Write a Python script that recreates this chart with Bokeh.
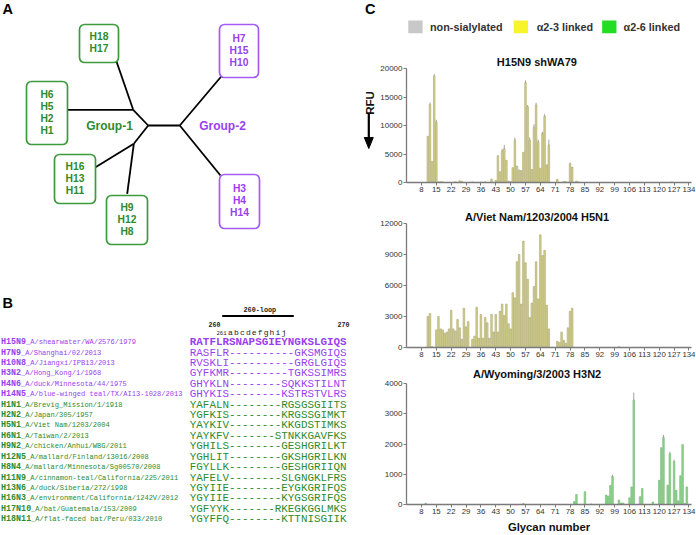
from bokeh.plotting import figure
from bokeh.layouts import row, column
from bokeh.models import Range1d, ColumnDataSource, FixedTicker, BasicTickFormatter
from bokeh.embed import file_html
from bokeh.resources import INLINE
from bokeh.core.properties import value

# ------------------------------------------------------------------ data
# Panel A: HA subtypes in each clade box of the tree
clade_members = [["H18", "H17"], ["H6", "H5", "H2", "H1"], ["H16", "H13", "H11"],
                 ["H9", "H12", "H8"], ["H7", "H15", "H10"], ["H3", "H4", "H14"]]
clade_group = [1, 1, 1, 1, 2, 2]
group_labels = ["Group-1", "Group-2"]

# Panel B: 260-loop alignment
strain_names = [
    "H15N9_A/shearwater/WA/2576/1979",
    "H7N9_A/Shanghai/02/2013",
    "H10N8_A/Jiangxi/IPB13/2013",
    "H3N2_A/Hong_Kong/1/1968",
    "H4N6_A/duck/Minnesota/44/1975",
    "H14N5_A/blue-winged teal/TX/AI13-1028/2013",
    "H1N1_A/Brevig_Mission/1/1918",
    "H2N2_A/Japan/305/1957",
    "H5N1_A/Viet Nam/1203/2004",
    "H6N1_A/Taiwan/2/2013",
    "H9N2_A/chicken/Anhui/WBG/2011",
    "H12N5_A/mallard/Finland/13016/2008",
    "H8N4_A/mallard/Minnesota/Sg00570/2008",
    "H11N9_A/cinnamon-teal/California/225/2011",
    "H13N6_A/duck/Siberia/272/1998",
    "H16N3_A/environment/California/1242V/2012",
    "H17N10_A/bat/Guatemala/153/2009",
    "H18N11_A/flat-faced bat/Peru/033/2010",
]
sequences = [
    "RATFLRSNAPSGIEYNGKSLGIQS",
    "RASFLR----------GKSMGIQS",
    "RVSKLI----------GRGLGIQS",
    "GYFKMR---------TGKSSIMRS",
    "GHYKLN--------SQKKSTILNT",
    "GHYKIS--------KSTRSTVLRS",
    "YAFALN--------RGSGSGIITS",
    "YGFKIS--------KRGSSGIMKT",
    "YAYKIV--------KKGDSTIMKS",
    "YAYKFV-------STNKKGAVFKS",
    "YGHILS--------GESHGRILKT",
    "YGHLIT--------GKSHGRILKN",
    "FGYLLK--------GESHGRIIQN",
    "YAFELV--------SLGNGKLFRS",
    "YGYIIE--------EYGKGRIFQS",
    "YGYIIE--------KYGSGRIFQS",
    "YGFYYK-------RKEGKGGLMKS",
    "YGYFFQ--------KTTNISGIIK",
]
strain_group = [2, 2, 2, 2, 2, 2, 1, 1, 1, 1, 1, 1, 1, 1, 1, 1, 1, 1]
loop_title = "260-loop"
position_labels = ["260", "270"]
insert_labels = ["261", "a", "b", "c", "d", "e", "f", "g", "h", "i", "j"]

# Panel C: glycan array (glycan number -> RFU)
legend_labels = ["non-sialylated", "\u03b12-3 linked", "\u03b12-6 linked"]
y_label = "RFU"
x_label = "Glycan number"
glycan_ticks = [8, 15, 22, 29, 36, 43, 50, 57, 64, 71, 78, 85, 92, 99, 106, 113, 120, 127, 134]

h15n9_title = "H15N9 shWA79"
h15n9_glycan = [11, 12, 13, 14, 15, 16, 17, 18, 24, 26, 27, 32, 36, 38, 41, 43, 44, 45, 46,
                47, 48, 49, 50, 51, 52, 53, 54, 55, 56, 57, 58, 59, 60, 61, 62, 63, 64, 65,
                66, 67, 68, 72, 75, 76, 78, 79, 81, 82, 126]
h15n9_rfu = [8100, 13700, 3700, 18700, 10600, 100, 150, 120, 120, 300, 200, 100, 80, 120,
             600, 350, 4700, 1900, 5500, 5900, 3900, 250, 150, 2600, 7400, 2900, 2200, 2100,
             5300, 17500, 13300, 7400, 2300, 9700, 13600, 7100, 2500, 8600, 11600, 3100,
             6600, 550, 150, 150, 3300, 2700, 250, 100, 100]
h15n9_err = [0, 300, 0, 300, 400, 0, 0, 0, 0, 0, 0, 0, 0, 0, 0, 0, 0, 0, 400, 700, 0, 0, 0,
             0, 500, 0, 0, 0, 0, 400, 300, 500, 0, 500, 400, 400, 0, 300, 400, 0, 900, 0, 0,
             0, 200, 0, 0, 0, 0]

h5n1_title = "A/Viet Nam/1203/2004 H5N1"
h5n1_glycan = [11, 12, 13, 15, 16, 17, 18, 19, 20, 21, 22, 23, 24, 25, 26, 27, 28, 29, 30,
               32, 33, 34, 35, 36, 37, 38, 39, 40, 41, 42, 43, 44, 45, 46, 47, 48, 49, 50,
               51, 52, 53, 54, 55, 56, 57, 58, 59, 60, 61, 62, 63, 64, 65, 66, 67, 68, 72,
               73, 74, 75, 76, 77, 78, 79, 101]
h5n1_rfu = [3000, 3300, 100, 1700, 3000, 1800, 1700, 1400, 1500, 1800, 3600, 1800, 1600,
            2700, 1900, 800, 3800, 2000, 2500, 800, 1100, 3900, 900, 3200, 900, 2900, 2400,
            900, 3200, 1500, 3200, 1500, 3500, 4200, 3100, 4200, 2300, 1800, 5300, 4800,
            8300, 9000, 4200, 10300, 8200, 6600, 2900, 4300, 5900, 8300, 4700, 10900, 8900,
            9400, 4100, 1800, 600, 500, 1500, 700, 400, 1900, 3500, 3800, 80]

h3n2_title = "A/Wyoming/3/2003 H3N2"
h3n2_glycan = [10, 56, 80, 81, 85, 88, 95, 96, 97, 98, 101, 102, 103, 106, 107, 108, 111,
               112, 117, 120, 121, 122, 124, 125, 127, 128, 129, 130, 131, 132, 133]
h3n2_rfu = [40, 30, 100, 330, 420, 20, 310, 280, 630, 930, 150, 50, 50, 220, 580, 3450, 260,
            530, 80, 800, 1880, 2220, 640, 1680, 1420, 470, 120, 950, 1980, 30, 580]
h3n2_err = [0, 0, 0, 0, 0, 0, 0, 0, 0, 60, 0, 0, 0, 0, 0, 250, 0, 0, 0, 0, 0, 80, 0, 60, 60,
            0, 0, 0, 0, 0, 0]

# ------------------------------------------------------------------ styles
SANS = value("Liberation Sans")
MONO = value("Liberation Mono")
GREEN = "#2e8b2e"
GREEN_BOX = "#3c9c3c"
PURPLE = "#9a3ff0"
PURPLE_BOX = "#a45cf2"
LEFT_W = 377


def fs(px):
    return value(f"{px:.2f}px")


def col_of(group):
    return PURPLE if group == 2 else GREEN


# Liberation Sans Bold advance widths (per 1000 em) to centre chart titles
_BOLD_W = {" ": 278, "/": 278, "A": 722, "H": 722, "N": 722, "W": 944, "V": 667, "a": 556,
           "e": 556, "h": 611, "i": 278, "m": 889, "n": 611, "o": 611, "s": 556, "t": 333,
           "y": 556, "g": 611}


def bold_width(text, size):
    return sum(_BOLD_W.get(c, 556) for c in text) * size / 1000.0


# ------------------------------------------------------------------ left figure (A + B + RFU)
left = figure(width=LEFT_W, height=535, x_range=Range1d(0, LEFT_W), y_range=Range1d(535, 0),
              output_backend="svg", toolbar_location=None, x_axis_location=None,
              y_axis_location=None, min_border=0)
left.grid.visible = False
left.outline_line_color = None

left.text(x=[2, 2, 364.5], y=[8.5, 302, 8.5], text=["A", "B", "C"], text_font=SANS,
          text_font_size=fs(14.5), text_font_style="bold", text_baseline="middle",
          text_align="left", text_color="black")

# tree branches
seg_x0 = [147.7, 147.7, 132.7, 132.7, 147.7, 133.3, 133.3, 179.3, 179.3]
seg_y0 = [125, 125, 109.3, 109.3, 125, 143.3, 143.3, 125, 125]
seg_x1 = [179.3, 132.7, 66.7, 116.0, 133.3, 95.0, 126.7, 220.7, 220.0]
seg_y1 = [125, 109.3, 109.3, 61.0, 143.3, 166.7, 193.3, 76.0, 175.0]
left.segment(x0=seg_x0, y0=seg_y0, x1=seg_x1, y1=seg_y1, line_color="black", line_width=1.8)

box_l = [79, 26, 54, 106, 219, 219]
box_r = [118, 67, 95, 147, 258, 259]
box_t = [24, 81, 154, 195, 24, 174]
box_b = [62, 144, 203, 244, 77, 228]
box_line = [PURPLE_BOX if g == 2 else GREEN_BOX for g in clade_group]
left.quad(left=box_l, right=box_r, top=box_t, bottom=box_b, fill_color="white",
          line_color=box_line, line_width=1.7, border_radius=5)

tx, ty, tt, tc = [], [], [], []
for i, members in enumerate(clade_members):
    cx = (box_l[i] + box_r[i]) / 2.0
    cy = (box_t[i] + box_b[i]) / 2.0 - 1
    n = len(members)
    for k, m in enumerate(members):
        tx.append(cx)
        ty.append(cy + (k - (n - 1) / 2.0) * 12.0)
        tt.append(m)
        tc.append(col_of(clade_group[i]))
left.text(x=tx, y=ty, text=tt, text_color=tc, text_font=SANS, text_font_size=fs(10.3),
          text_font_style="bold", text_align="center", text_baseline="middle")
left.text(x=[109, 222], y=[125.5, 125.5], text=group_labels, text_color=[GREEN, PURPLE],
          text_font=SANS, text_font_size=fs(12), text_font_style="bold",
          text_align="center", text_baseline="middle")

# panel B header
left.text(x=[259.3], y=[309.5], text=[loop_title], text_font=MONO, text_font_size=fs(6.8),
          text_font_style="bold", text_align="center", text_baseline="middle", text_color="#222")
left.segment(x0=[221.7], y0=[315.5], x1=[293.3], y1=[315.5], line_color="black", line_width=2)
left.text(x=[214.0, 343.0], y=[323.5, 323.5], text=position_labels, text_font=MONO,
          text_font_size=fs(6.6), text_font_style="bold", text_align="center",
          text_baseline="middle", text_color="#222")
ins_x = [221.0] + [230.0 + 5.93 * k for k in range(10)]
ins_size = [5.6] + [8.0] * 10
for x, t, s in zip(ins_x, insert_labels, ins_size):
    left.text(x=[x], y=[332.0], text=[t], text_font=MONO, text_font_size=fs(s),
              text_align="center", text_baseline="middle", text_color="#222")

# alignment rows
ROW0, ROWSTEP = 341.7, 10.41
row_y = [ROW0 + ROWSTEP * i for i in range(len(strain_names))]
pre_t, rest_t, rest_x, rc = [], [], [], []
PRE_FS, REST_FS = 8.4, 7.05
for name, g in zip(strain_names, strain_group):
    pre, rest = name.split("_", 1)
    pre_t.append(pre)
    rest_t.append("_" + rest)
    rest_x.append(0.6 * PRE_FS * len(pre) + 0.3)
    rc.append(col_of(g))
left.text(x=[0.5] * len(pre_t), y=row_y, text=pre_t, text_color=rc, text_font=MONO,
          text_font_size=fs(PRE_FS), text_font_style="bold", text_align="left",
          text_baseline="middle")
left.text(x=rest_x, y=row_y, text=rest_t, text_color=rc, text_font=MONO,
          text_font_size=fs(REST_FS), text_align="left", text_baseline="middle")
left.text(x=[189.3], y=row_y[:1], text=sequences[:1], text_color=rc[:1], text_font=MONO,
          text_font_size=fs(10.9), text_font_style="bold", text_align="left",
          text_baseline="middle")
left.text(x=[189.3] * (len(sequences) - 1), y=row_y[1:], text=sequences[1:], text_color=rc[1:],
          text_font=MONO, text_font_size=fs(10.9), text_align="left", text_baseline="middle")

# RFU label and downward arrow beside the first chart
left.text(x=[369.5], y=[102.5], text=[y_label], angle=1.5708, text_font=SANS,
          text_font_size=fs(11.5), text_font_style="bold", text_align="center",
          text_baseline="middle", text_color="#111111")
left.segment(x0=[368.3], y0=[113], x1=[368.3], y1=[139], line_color="black", line_width=2.2)
left.patch(x=[363.8, 372.8, 368.3], y=[137, 137, 148], fill_color="black", line_color="black")

# ------------------------------------------------------------------ legend figure
RIGHT_W = 696 - LEFT_W
leg = figure(width=RIGHT_W, height=44, x_range=Range1d(LEFT_W, 696), y_range=Range1d(44, 0),
             output_backend="svg", toolbar_location=None, x_axis_location=None,
             y_axis_location=None, min_border=0)
leg.grid.visible = False
leg.outline_line_color = None
sw_l = [379, 497, 596]
leg.quad(left=sw_l, right=[x + 16 for x in sw_l], top=[20] * 3, bottom=[32.7] * 3,
         fill_color=["#c8c8c8", "#f7f52a", "#22dd22"], line_color=None)
leg.text(x=[403.3, 522.7, 620], y=[26.5] * 3, text=legend_labels, text_font=SANS,
         text_font_size=fs(10.8), text_font_style="bold", text_color="#333333",
         text_align="left", text_baseline="middle")

# ------------------------------------------------------------------ bar charts
XR = (0.95, 135.2)
FRAME_L = 405 - LEFT_W
FRAME_W = 286
TITLE_CX = 535.7 - 405   # title centre relative to frame left
TITLE_FS = 11.0


def make_chart(title, glycan, rfu, err, ymax, yticks, fill, line, height, btop, bbot,
               xlabel=None, tstand=1):
    p = figure(width=RIGHT_W, height=height, x_range=Range1d(*XR), y_range=Range1d(0, ymax),
               output_backend="svg", toolbar_location=None, min_border_left=FRAME_L,
               min_border_right=RIGHT_W - FRAME_L - FRAME_W, min_border_top=btop,
               min_border_bottom=bbot, title=title)
    p.title.align = "left"
    p.title.offset = TITLE_CX - bold_width(title, TITLE_FS) / 2.0
    p.title.standoff = tstand
    p.title.text_font = "Liberation Sans"
    p.title.text_font_size = f"{TITLE_FS}px"
    p.title.text_font_style = "bold"
    p.title.text_color = "#111111"
    src = ColumnDataSource(dict(g=glycan, v=rfu, top=[a + b for a, b in zip(rfu, err)]))
    p.vbar(x="g", top="v", width=0.74, source=src, fill_color=fill, line_color=line,
           line_width=0.6)
    p.segment(x0="g", y0="v", x1="g", y1="top", source=src, line_color="#8a8a8a",
              line_width=0.8)
    p.grid.visible = False
    p.outline_line_color = None
    p.xaxis.ticker = FixedTicker(ticks=glycan_ticks)
    p.yaxis.ticker = FixedTicker(ticks=yticks)
    p.yaxis.formatter = BasicTickFormatter(use_scientific=False)
    for ax in (p.xaxis, p.yaxis):
        ax.axis_line_color = "#7a7a7a"
        ax.axis_line_width = 1.3
        ax.major_tick_line_color = "#7a7a7a"
        ax.major_tick_out = 3
        ax.major_tick_in = 0
        ax.minor_tick_line_color = None
        ax.major_label_text_font = "Liberation Sans"
        ax.major_label_text_color = "#333333"
        ax.major_label_standoff = 1
    p.xaxis.major_label_text_font_size = "7.8px"
    p.yaxis.major_label_text_font_size = "8px"
    if xlabel:
        p.xaxis.axis_label = xlabel
        p.xaxis.axis_label_text_font = "Liberation Sans"
        p.xaxis.axis_label_text_font_size = "11.3px"
        p.xaxis.axis_label_text_font_style = "bold"
        p.xaxis.axis_label_text_color = "#111111"
        p.xaxis.axis_label_standoff = 4
    return p


OLIVE, OLIVE_LINE = "#d5d190", "#aaa669"
LGREEN, LGREEN_LINE = "#93d293", "#6cb96c"

c1 = make_chart(h15n9_title, h15n9_glycan, h15n9_rfu, h15n9_err, 20000,
                [0, 5000, 10000, 15000, 20000], OLIVE, OLIVE_LINE, 158, 24, 20)
c2 = make_chart(h5n1_title, h5n1_glycan, h5n1_rfu, [0] * len(h5n1_rfu), 12000,
                [0, 3000, 6000, 9000, 12000], OLIVE, OLIVE_LINE, 159, 21, 14)
c3 = make_chart(h3n2_title, h3n2_glycan, h3n2_rfu, h3n2_err, 4000,
                [0, 1000, 2000, 3000, 4000], LGREEN, LGREEN_LINE, 174, 22, 30,
                xlabel=x_label, tstand=4)
c3.title.vertical_align = "top"

layout = row(left, column(leg, c1, c2, c3))
open("out.html", "w").write(file_html(layout, INLINE))
